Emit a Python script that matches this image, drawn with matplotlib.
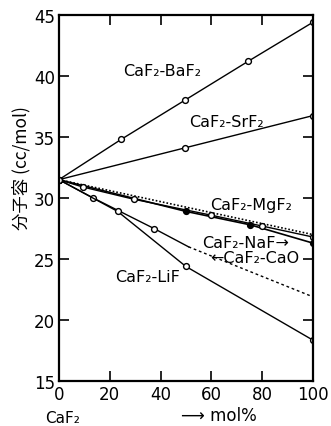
import matplotlib
matplotlib.use("Agg")
from matplotlib import pyplot as plt

# data (mol% of second component, molar volume cc/mol)
origin_y = 31.5

baf2_x = [0, 24.5, 49.5, 74.5, 100]
baf2_y = [origin_y, 34.8, 38.0, 41.2, 44.4]

srf2_x = [0, 49.5, 100]
srf2_y = [origin_y, 34.1, 36.75]

mgf2_x = [0, 9.4, 29.4, 59.7, 80, 100]
mgf2_y = [origin_y, 30.9, 29.9, 28.6, 27.7, 26.8]

naf_x = [0, 50, 75.3, 100]
naf_y = [origin_y, 28.9, 27.8, 26.3]

ideal_x = [0, 100]
ideal_y = [origin_y, 27.0]

cao_x = [0, 13.5, 37.4]
cao_y = [origin_y, 30.0, 27.5]
cao_solid_end = (51, 26.0)
cao_dotted_end = (100, 21.9)

lif_x = [0, 23.1, 49.9, 100]
lif_y = [origin_y, 28.9, 24.4, 18.35]

x_ticks = [0, 20, 40, 60, 80, 100]
y_ticks = [15, 20, 25, 30, 35, 40, 45]

fig = plt.figure(figsize=(3.31, 4.27), dpi=100)
ax = fig.add_axes([0.178, 0.105, 0.768, 0.858])

lw = 1.0
ms = 4.2
open_style = dict(color="black", lw=lw, marker="o", ms=ms, mfc="white", mec="black", mew=1.0)

ax.plot(baf2_x, baf2_y, **open_style)
ax.plot(srf2_x, srf2_y, **open_style)
ax.plot(ideal_x, ideal_y, color="black", lw=1.2, ls=(0, (1, 1.2)))
ax.plot(naf_x, naf_y, color="black", lw=1.2, marker="o", ms=ms, mfc="black", mec="black")
ax.plot(mgf2_x, mgf2_y, **open_style)
ax.plot(cao_x + [cao_solid_end[0]], cao_y + [cao_solid_end[1]], color="black", lw=lw)
ax.plot(cao_x[1:], cao_y[1:], ls="none", marker="o", ms=ms, mfc="white", mec="black", mew=1.0)
ax.plot([cao_solid_end[0], cao_dotted_end[0]], [cao_solid_end[1], cao_dotted_end[1]],
        color="black", lw=1.0, ls=(0, (2, 2)))
ax.plot(lif_x, lif_y, **open_style)

fs = 11.5
ax.text(40.7, 40.4, "CaF₂-BaF₂", fontsize=fs, ha="center", va="center")
ax.text(65.8, 36.3, "CaF₂-SrF₂", fontsize=fs, ha="center", va="center")
ax.text(75.7, 29.5, "CaF₂-MgF₂", fontsize=fs, ha="center", va="center")
ax.text(73.5, 26.35, "CaF₂-NaF→", fontsize=fs, ha="center", va="center")
ax.text(77.2, 25.1, "←CaF₂-CaO", fontsize=fs, ha="center", va="center")
ax.text(35, 23.6, "CaF₂-LiF", fontsize=fs, ha="center", va="center")

ax.set_xlim(0, 100)
ax.set_ylim(15, 45)
ax.set_xticks(x_ticks)
ax.set_yticks(y_ticks)
ax.tick_params(direction="in", length=7, width=1.2, labelsize=12,
               top=True, right=True, pad=3)
for s in ax.spines.values():
    s.set_linewidth(1.6)

ax.text(-0.15, 0.585, "分子容 (cc/mol)", transform=ax.transAxes, rotation=90,
        ha="center", va="center", fontsize=12.5,
        family=["Noto Sans CJK JP", "DejaVu Sans"])
ax.text(0.015, -0.1, "CaF₂", transform=ax.transAxes, ha="center", va="center", fontsize=11)
ax.text(0.63, -0.092, "⟶ mol%", transform=ax.transAxes, ha="center", va="center", fontsize=12)

fig.savefig("out.png", dpi=100)
